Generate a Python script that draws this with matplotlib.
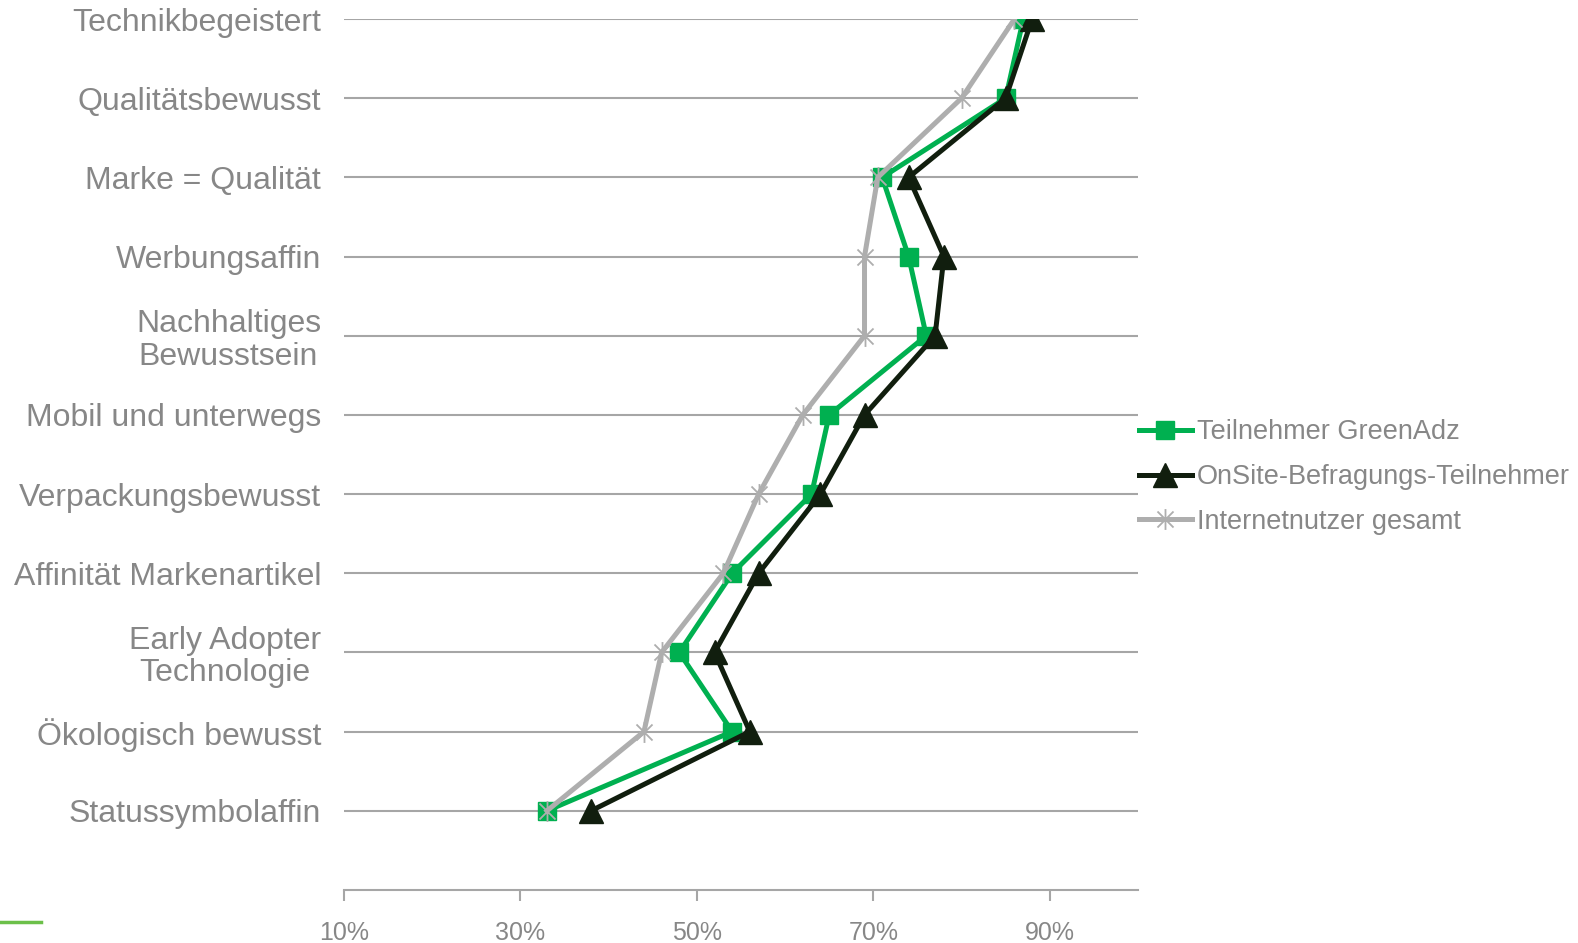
import matplotlib
matplotlib.use("Agg")
import matplotlib.pyplot as plt
from matplotlib.lines import Line2D
from matplotlib.path import Path

plt.rcParams['font.family'] = ['Liberation Sans', 'DejaVu Sans']

categories = ["Technikbegeistert", "Qualitätsbewusst", "Marke = Qualität", "Werbungsaffin",
              "Nachhaltiges\nBewusstsein", "Mobil und unterwegs", "Verpackungsbewusst",
              "Affinität Markenartikel", "Early Adopter\nTechnologie", "Ökologisch bewusst",
              "Statussymbolaffin"]
greenadz = [87, 85, 71, 74, 76, 65, 63, 54, 48, 54, 33]
onsite = [88, 85, 74, 78, 77, 69, 64, 57, 52, 56, 38]
internet = [86, 80, 70.5, 69, 69, 62, 57, 53, 46, 44, 33]
series_names = ["Teilnehmer GreenAdz", "OnSite-Befragungs-Teilnehmer", "Internetnutzer gesamt"]
xticks = [10, 30, 50, 70, 90]

TXT = '#878787'
GRID = '#A6A6A6'

star = Path([(-1, -1), (1, 1), (-1, 1), (1, -1), (0, -1.3), (0, 1.3)],
            [Path.MOVETO, Path.LINETO, Path.MOVETO, Path.LINETO, Path.MOVETO, Path.LINETO])

fig = plt.figure(figsize=(15.78, 9.43), dpi=100)
ax = fig.add_axes([344/1578, 1-890/943, (1138-344)/1578, (890-19)/943])

n = len(categories)
ypos = [n - i for i in range(n)]

for y in ypos:
    ax.axhline(y, color=GRID, lw=1.5, zorder=0)

ax.plot(greenadz, ypos, color='#00B050', lw=3.6, marker='s', ms=13, mfc='#00B050', mec='#00B050',
        label=series_names[0], zorder=3)
ax.plot(onsite, ypos, color='#111E0E', lw=3.6, marker='^', ms=17, mfc='#111E0E', mec='#111E0E',
        label=series_names[1], zorder=4)
ax.plot(internet, ypos, color='#AEAEAE', lw=3.6, marker=star, ms=15, mew=1.3, mfc='none', mec='#AEAEAE',
        label=series_names[2], zorder=5)

ax.set_xlim(10, 100)
ax.set_ylim(0, n)
ax.set_xticks(xticks)
ax.set_xticklabels([f"{v}%" for v in xticks])
ax.set_yticks(ypos)
ax.set_yticklabels(categories, multialignment='center', linespacing=1.1)
ax.tick_params(axis='y', length=0, pad=16.5, labelsize=23, labelcolor=TXT)
ax.tick_params(axis='x', length=8, width=1.5, color=GRID, pad=14, labelsize=18, labelcolor=TXT)
for s in ['top', 'right', 'left']:
    ax.spines[s].set_visible(False)
ax.spines['bottom'].set_color(GRID)
ax.spines['bottom'].set_linewidth(1.5)

leg = ax.legend(loc='center left', bbox_to_anchor=((1139-344)/794, (890-477)/871), frameon=False,
                fontsize=19.5, handlelength=1.95, handletextpad=0.2, labelspacing=0.7,
                borderaxespad=0, borderpad=0)
for t in leg.get_texts():
    t.set_color(TXT)

fig.add_artist(Line2D([0, 41/1578], [1-922/943, 1-922/943], color='#6CC04A', lw=2.5))

fig.savefig("out.png", dpi=100)
